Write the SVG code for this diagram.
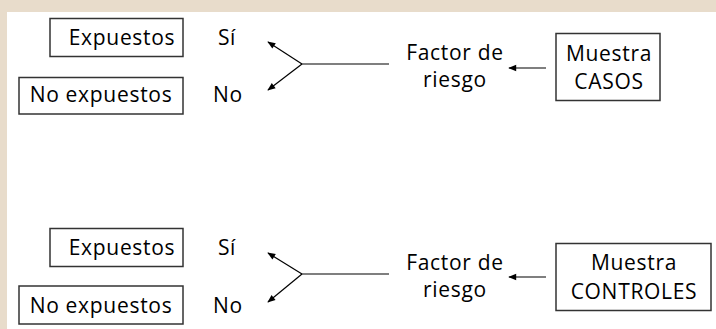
<svg xmlns="http://www.w3.org/2000/svg" width="716" height="329" viewBox="0 0 716 329">
<defs>
<marker id="ah" viewBox="0 0 10 10" refX="9" refY="5" markerWidth="9" markerHeight="8" markerUnits="userSpaceOnUse" orient="auto">
<path d="M0,1 L10,5 L0,9 Z" fill="#000"/>
</marker>
</defs>
<style>
text{font-family:"Open Sans","Noto Sans",sans-serif;font-size:21px;font-weight:500;letter-spacing:0.7px;fill:#000;text-anchor:middle}
.box{fill:#fff;stroke:#333;stroke-width:1.5}
.ln{stroke:#000;stroke-width:1.2;fill:none}
.ar{stroke:#000;stroke-width:1.2;fill:none;marker-end:url(#ah)}
</style>
<rect x="0" y="0" width="716" height="329" fill="#e8dccb"/>
<rect x="7" y="12" width="709" height="317" fill="#fff"/>

<g id="top-expuestos"><rect class="box" x="50" y="18.5" width="133" height="38"/><text x="122" y="45">Expuestos</text></g>
<g id="top-noexpuestos"><rect class="box" x="19" y="77.5" width="164" height="36.5"/><text x="101" y="102">No expuestos</text></g>
<g id="top-si"><text x="227" y="45">Sí</text></g>
<g id="top-no"><text x="228" y="102">No</text></g>
<g id="top-factor"><text x="455" y="60">Factor de</text><text x="455" y="87">riesgo</text></g>
<g id="top-muestra"><rect class="box" x="556" y="33.5" width="104" height="67"/><text x="609" y="61">Muestra</text><text x="609" y="89">CASOS</text></g>

<g id="bot-expuestos"><rect class="box" x="50" y="228.5" width="133" height="38"/><text x="122" y="255">Expuestos</text></g>
<g id="bot-noexpuestos"><rect class="box" x="19" y="286" width="164" height="38"/><text x="101" y="313">No expuestos</text></g>
<g id="bot-si"><text x="227" y="255">Sí</text></g>
<g id="bot-no"><text x="228" y="313">No</text></g>
<g id="bot-factor"><text x="455" y="270">Factor de</text><text x="455" y="297">riesgo</text></g>
<g id="bot-muestra"><rect class="box" x="556" y="243.5" width="155" height="67"/><text x="634" y="270">Muestra</text><text x="634" y="299">CONTROLES</text></g>

<g id="connectors">
<line class="ln" x1="302" y1="64" x2="389" y2="64"/>
<line class="ar" x1="302" y1="64" x2="268" y2="42"/>
<line class="ar" x1="302" y1="64" x2="268" y2="90"/>
<line class="ar" x1="546" y1="68" x2="509" y2="68"/>
<line class="ln" x1="302" y1="274" x2="389" y2="274"/>
<line class="ar" x1="302" y1="274" x2="268" y2="253"/>
<line class="ar" x1="302" y1="274" x2="268" y2="302"/>
<line class="ar" x1="546" y1="277" x2="509" y2="277"/>
</g>
</svg>
